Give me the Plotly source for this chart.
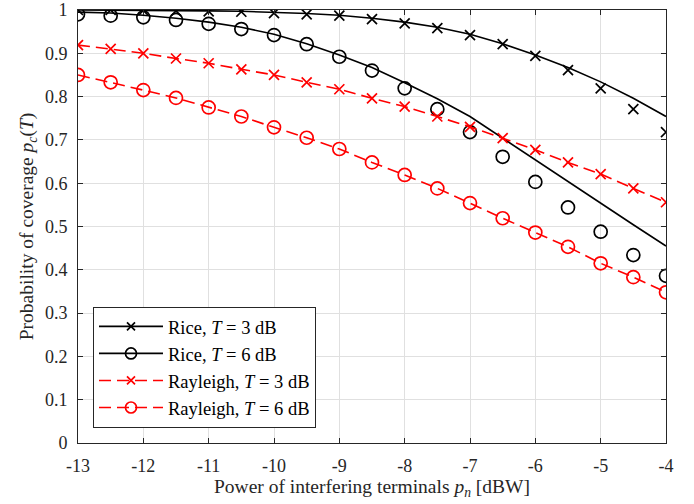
import plotly.graph_objects as go

x_pts = [-13, -12.5, -12, -11.5, -11, -10.5, -10, -9.5, -9, -8.5, -8,
         -7.5, -7, -6.5, -6, -5.5, -5, -4.5, -4]

# analytic curves
rice3_line = [1.0, 0.9998, 0.9995, 0.999, 0.998, 0.997, 0.995, 0.992, 0.988, 0.981, 0.972,
              0.960, 0.944, 0.922, 0.896, 0.867, 0.834, 0.796, 0.754]
rice6_line = [0.995, 0.993, 0.988, 0.981, 0.972, 0.960, 0.944, 0.922, 0.896, 0.867, 0.832,
              0.795, 0.754, 0.704, 0.652, 0.602, 0.553, 0.504, 0.455]
ray3_line = [0.919, 0.910, 0.900, 0.888, 0.877, 0.863, 0.850, 0.833, 0.817, 0.796, 0.777,
             0.754, 0.730, 0.704, 0.677, 0.648, 0.621, 0.588, 0.556]
ray6_line = [0.850, 0.833, 0.815, 0.797, 0.775, 0.754, 0.729, 0.705, 0.679, 0.648, 0.619,
             0.588, 0.554, 0.519, 0.486, 0.453, 0.415, 0.383, 0.348]

# simulation points
rice3_sim = [1.0, 1.0, 0.999, 0.998, 0.997, 0.996, 0.993, 0.990, 0.987, 0.979, 0.969,
             0.958, 0.942, 0.921, 0.894, 0.861, 0.819, 0.771, 0.718]
rice6_sim = [0.990, 0.987, 0.983, 0.977, 0.968, 0.956, 0.942, 0.921, 0.892, 0.860, 0.819,
             0.771, 0.718, 0.661, 0.603, 0.544, 0.488, 0.434, 0.386]
ray3_sim = ray3_line
ray6_sim = ray6_line

x_ticks = [-13, -12, -11, -10, -9, -8, -7, -6, -5, -4]
x_ticklabels = ["-13", "-12", "-11", "-10", "-9", "-8", "-7", "-6", "-5", "-4"]
y_ticks = [0, 0.1, 0.2, 0.3, 0.4, 0.5, 0.6, 0.7, 0.8, 0.9, 1]
y_ticklabels = ["0", "0.1", "0.2", "0.3", "0.4", "0.5", "0.6", "0.7", "0.8", "0.9", "1"]

names = ["Rice, <i>T</i> = 3 dB", "Rice, <i>T</i> = 6 dB",
         "Rayleigh, <i>T</i> = 3 dB", "Rayleigh, <i>T</i> = 6 dB"]

RED = "#ff0000"
BLK = "#000000"
DASH = "12px,6px"
SERIF = "Liberation Serif, DejaVu Serif, serif"

series = [
    (rice3_line, rice3_sim, BLK, "solid", "x-thin-open", 10),
    (rice6_line, rice6_sim, BLK, "solid", "circle-open", 13),
    (ray3_line, ray3_sim, RED, DASH, "x-thin-open", 10),
    (ray6_line, ray6_sim, RED, DASH, "circle-open", 13),
]

fig = go.Figure()
for (ln, sim, col, dash, sym, sz), nm in zip(series, names):
    fig.add_trace(go.Scatter(x=x_pts, y=ln, mode="lines", showlegend=False,
                             line=dict(color=col, width=1.6, dash=dash)))
    fig.add_trace(go.Scatter(x=x_pts, y=sim, mode="markers", showlegend=False,
                             marker=dict(symbol=sym, size=sz, color=col,
                                         line=dict(color=col, width=1.7))))
for (ln, sim, col, dash, sym, sz), nm in zip(series, names):
    fig.add_trace(go.Scatter(x=[None], y=[None], mode="lines+markers", name=nm,
                             line=dict(color=col, width=1.6, dash=dash),
                             marker=dict(symbol=sym, size=sz - 2, color=col,
                                         line=dict(color=col, width=1.7))))

axis_common = dict(showgrid=True, gridcolor="#e0e0e0", gridwidth=1,
                   showline=True, linecolor="#262626", linewidth=1, mirror="ticks",
                   ticks="inside", ticklen=5, tickcolor="#262626",
                   zeroline=False, ticklabelstandoff=6, automargin=False,
                   tickfont=dict(size=18, color="#262626", family=SERIF))

fig.update_layout(
    width=694, height=504,
    margin=dict(l=78, r=28, t=10, b=61, autoexpand=False),
    plot_bgcolor="white", paper_bgcolor="white",
    font=dict(family=SERIF, color="#262626", size=18),
    xaxis=dict(range=[-13, -4], tickvals=x_ticks, ticktext=x_ticklabels,
               title=dict(text="Power of interfering terminals <i>p</i><sub><i>n</i></sub> [dBW]",
                          font=dict(size=19.5, family=SERIF), standoff=4),
               **axis_common),
    yaxis=dict(range=[0, 1], tickvals=y_ticks, ticktext=y_ticklabels,
               title=dict(text="Probability of coverage <i>p</i><sub><i>c</i></sub>(<i>T</i>)",
                          font=dict(size=19.5, family=SERIF), standoff=6),
               **axis_common),
    legend=dict(x=0.0255, y=0.035, xanchor="left", yanchor="bottom",
                bgcolor="white", bordercolor="#262626", borderwidth=1,
                font=dict(size=18.5, color="#000000", family=SERIF),
                tracegroupgap=0, itemwidth=64),
)

fig.write_html("out.html", config={"displayModeBar": False},
               post_script="document.body.style.margin='0px';")
